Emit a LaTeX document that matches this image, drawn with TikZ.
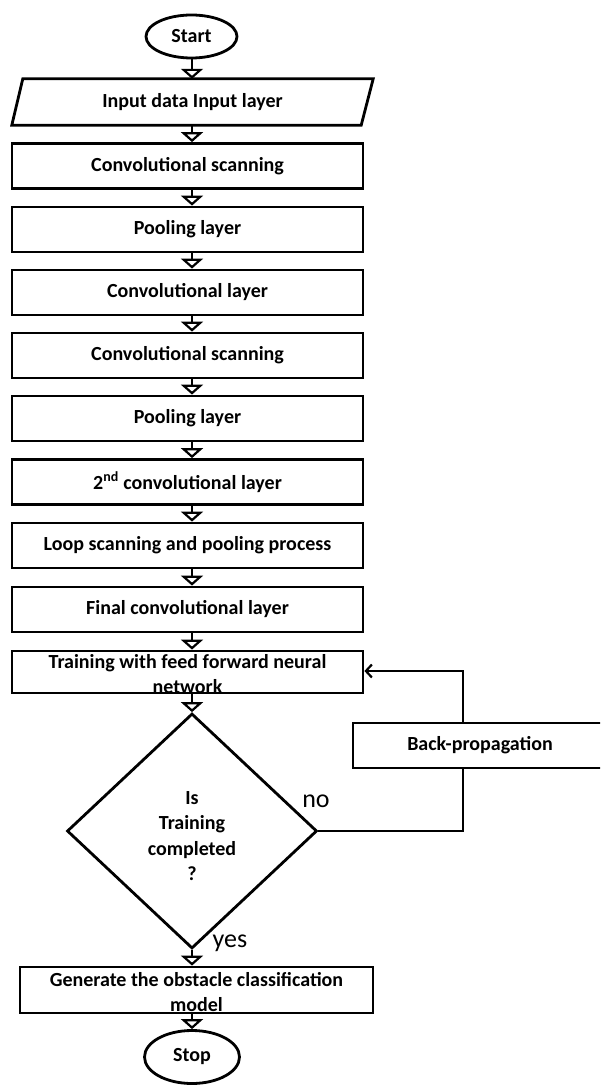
\documentclass[tikz,border=0pt]{standalone}
\usepackage{fontspec}
\setmainfont{Carlito}
\usetikzlibrary{arrows.meta,shapes.geometric}

\tikzset{
  lbl/.style={font=\bfseries\fontsize{20}{25}\selectfont, align=center, inner sep=0pt},
  stepbox/.style={draw, line width=2.8pt, rectangle, minimum width=351pt, minimum height=45pt,
    inner sep=0pt, lbl},
  term/.style={draw, ellipse, line width=2.8pt, inner sep=0pt, lbl},
  decision/.style={draw, diamond, line width=2.8pt, inner sep=0pt, aspect=1.06,
    minimum width=250pt, minimum height=235pt},
  flow/.style={line width=2.2pt, -{Triangle[open,length=10pt,width=22pt,line width=2.2pt]}},
  loopline/.style={line width=2.8pt},
  answer/.style={font=\fontsize{26}{30}\selectfont, inner sep=0pt},
}

\begin{document}
\begin{tikzpicture}[x=1pt,y=-1pt]
  \clip (0,0) rectangle (600,1086);
  \fill[white] (0,0) rectangle (600,1086);

  % main column axis of the connectors
  \coordinate (axis) at (192,0);
  \coordinate (fb) at (463,0);

  \node[term, minimum width=91pt, minimum height=43pt] (start) at (191.5,36.5) {Start};

  % input (parallelogram drawn round an invisible node)
  \node[lbl, minimum width=361pt, minimum height=46pt] (inp) at (192.5,102) {Input data Input layer};
  \draw[line width=2.8pt, line join=miter]
    (inp.south west) -- ([xshift=-12pt]inp.south east) -- (inp.north east)
    -- ([xshift=11pt]inp.north west) -- cycle;

  \node[stepbox] (c1) at (187.5,166)   {Convolutional scanning};
  \node[stepbox] (p1) at (187.5,229.5) {Pooling layer};
  \node[stepbox] (c2) at (187.5,292.5) {Convolutional layer};
  \node[stepbox] (c3) at (187.5,355.5) {Convolutional scanning};
  \node[stepbox] (p2) at (187.5,418.5) {Pooling layer};
  \node[stepbox] (c4) at (187.5,482)   {2\textsuperscript{nd} convolutional layer};
  \node[stepbox] (lp) at (187.5,545.5) {Loop scanning and pooling process};
  \node[stepbox] (fc) at (187.5,609.5) {Final convolutional layer};

  \node[stepbox, minimum height=42pt] (train) at (187.5,672) {};
  \node[lbl] (traintxt) at (187.5,674.5) {Training with feed forward neural\\network};

  \node[decision] (dec) at (192,831) {};
  \node[lbl, font=\bfseries\fontsize{20}{25.5}\selectfont] (dectxt) at (192,836)
    {Is\\Training\\completed\\?};

  \node[stepbox, minimum width=254pt] (bp) at (480,745.5) {Back-propagation};

  \node[stepbox, minimum width=353pt, minimum height=46pt] (gen) at (196.5,990) {};
  \node[lbl] (gentxt) at (196.5,992) {Generate the obstacle classification\\model};

  \node[term, minimum width=95pt, minimum height=53pt] (stop) at (192,1057) {Stop};

  \node[answer] (no) at (316,801) {no};
  \node[answer] (yes) at (230,943) {yes};

  % main flow
  \draw[flow] (start.south -| axis) -- (inp.north -| axis);
  \draw[flow] (inp.south -| axis)   -- (c1.north -| axis);
  \draw[flow] (c1.south -| axis)    -- (p1.north -| axis);
  \draw[flow] (p1.south -| axis)    -- (c2.north -| axis);
  \draw[flow] (c2.south -| axis)    -- (c3.north -| axis);
  \draw[flow] (c3.south -| axis)    -- (p2.north -| axis);
  \draw[flow] (p2.south -| axis)    -- (c4.north -| axis);
  \draw[flow] (c4.south -| axis)    -- (lp.north -| axis);
  \draw[flow] (lp.south -| axis)    -- (fc.north -| axis);
  \draw[flow] (fc.south -| axis)    -- (train.north -| axis);
  \draw[flow] (train.south -| axis) -- (dec.north);
  \draw[flow] (dec.south)           -- (gen.north -| axis);
  \draw[flow] (gen.south -| axis)   -- (stop.north);

  % feedback loop
  \draw[loopline] (dec.east) -| (bp.south -| fb);
  \draw[loopline, -{Straight Barb[length=6pt,width=13pt,line width=2.2pt]}]
    (bp.north -| fb) |- ([yshift=1pt]train.east);
\end{tikzpicture}
\end{document}
